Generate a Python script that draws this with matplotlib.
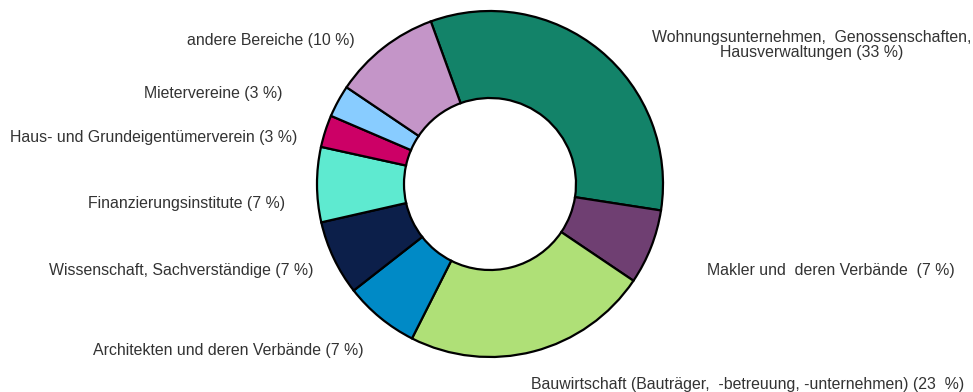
import matplotlib
matplotlib.use("Agg")
import matplotlib.pyplot as plt

plt.rcParams.update({'font.family': ['Liberation Sans', 'DejaVu Sans']})

# shares in percent, clockwise from the top
labels = [
    "Wohnungsunternehmen,  Genossenschaften,\nHausverwaltungen (33 %)",
    "Makler und  deren Verbände  (7 %)",
    "Bauwirtschaft (Bauträger,  -betreuung, -unternehmen) (23  %)",
    "Architekten und deren Verbände (7 %)",
    "Wissenschaft, Sachverständige (7 %)",
    "Finanzierungsinstitute (7 %)",
    "Haus- und Grundeigentümerverein (3 %)",
    "Mietervereine (3 %)",
    "andere Bereiche (10 %)",
]
shares = [33, 7, 23, 7, 7, 7, 3, 3, 10]
colors = ["#138369", "#6f3f72", "#afe077", "#008ac6", "#0c1f4a",
          "#5eead0", "#cc0066", "#88ccff", "#c495c8"]

# label centres in pixel units (x, y from the top)
label_pos = [(812, 45), (831, 270), (748, 385), (228, 350), (181, 270),
             (187, 203), (154, 137), (213, 93), (271, 40)]

W, H = 973, 392
fig = plt.figure(figsize=(W / 100, H / 100), dpi=100)
ax = fig.add_axes([0, 0, 1, 1])

ax.pie(shares, colors=colors, startangle=110, counterclock=False,
       center=(490, H - 184), radius=173,
       wedgeprops=dict(width=87, edgecolor='black', linewidth=1.6))

# pie() resets the limits, so set the pixel frame afterwards
ax.set_xlim(0, W)
ax.set_ylim(0, H)
ax.set_aspect('equal')
ax.axis('off')

for text, (x, y) in zip(labels, label_pos):
    ax.text(x, H - y, text, ha='center', va='center', fontsize=11.4,
            color='#333333', linespacing=0.95)

fig.savefig("out.png", dpi=100)
